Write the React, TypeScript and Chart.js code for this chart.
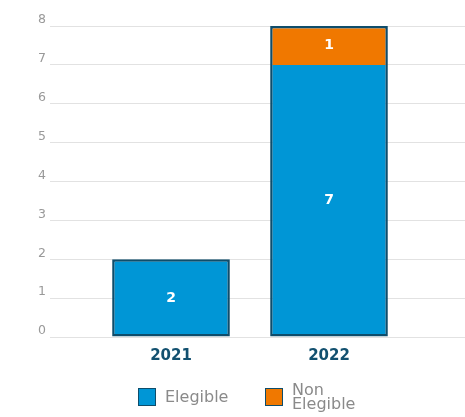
import React, { useEffect, useRef } from "react";
import { Chart, registerables } from "chart.js";

Chart.register(...registerables);

const categories = ["2021", "2022"];
const elegibleValues = [2, 7];
const nonElegibleValues = [null, 1];
const seriesNames = ["Elegible", "Non Elegible"];
const legendLines = [["Elegible"], ["Non", "Elegible"]];
const yTicks = [0, 1, 2, 3, 4, 5, 6, 7, 8];

const BLUE = "#0096D6";
const ORANGE = "#F07800";
const EDGE = "#0E4D6B";
const FONT = "'DejaVu Sans', 'Open Sans', sans-serif";
const seriesColors = [BLUE, ORANGE];

const valueLabels = {
  id: "valueLabels",
  afterDatasetsDraw(chart: any) {
    const ctx = chart.ctx;
    ctx.save();
    ctx.fillStyle = "#ffffff";
    ctx.font = `bold 14px ${FONT}`;
    ctx.textAlign = "center";
    ctx.textBaseline = "middle";
    chart.data.datasets.forEach((ds: any, di: number) => {
      const meta = chart.getDatasetMeta(di);
      meta.data.forEach((bar: any, i: number) => {
        const v = ds.data[i];
        if (v == null) return;
        const p = bar.getCenterPoint();
        ctx.fillText(String(v), p.x, p.y);
      });
    });
    ctx.restore();
  },
};

export default function App() {
  const ref = useRef<HTMLCanvasElement | null>(null);
  useEffect(() => {
    if (!ref.current) return;
    const chart = new Chart(ref.current, {
      type: "bar",
      data: {
        labels: categories,
        datasets: [
          {
            label: seriesNames[0],
            data: elegibleValues,
            backgroundColor: BLUE,
            borderColor: EDGE,
            borderWidth: 2.5,
            borderSkipped: (c: any) => (nonElegibleValues[c.dataIndex] ? "top" : false),
            barPercentage: 0.745,
            categoryPercentage: 1,
          },
          {
            label: seriesNames[1],
            data: nonElegibleValues,
            backgroundColor: ORANGE,
            borderColor: EDGE,
            borderWidth: 2.5,
            borderSkipped: "bottom",
            barPercentage: 0.745,
            categoryPercentage: 1,
          },
        ] as any,
      },
      options: {
        animation: false,
        responsive: false,
        maintainAspectRatio: false,
        layout: { padding: { top: 26, bottom: 50, left: 0, right: 0 } },
        scales: {
          x: {
            stacked: true,
            grid: { display: false },
            border: { display: false },
            ticks: {
              color: "#12506F",
              font: { family: FONT, size: 15, weight: "bold" },
              padding: 2,
            },
            afterFit: (s: any) => {
              s.height = 30;
            },
          },
          y: {
            stacked: true,
            min: 0,
            max: 8,
            afterBuildTicks: (s: any) => {
              s.ticks = yTicks.map((v) => ({ value: v }));
            },
            grid: { color: "#E2E2E2", lineWidth: 1, tickLength: 42 },
            border: { display: false },
            ticks: {
              color: "#999999",
              font: { family: FONT, size: 12.5 },
              padding: 4,
              labelOffset: -6,
            },
            afterFit: (s: any) => {
              s.width = 92;
            },
          },
          y2: {
            position: "right",
            min: 0,
            max: 8,
            afterBuildTicks: (s: any) => {
              s.ticks = yTicks.map((v) => ({ value: v }));
            },
            grid: { color: "#E2E2E2", lineWidth: 1, tickLength: 57, drawOnChartArea: false },
            border: { display: false },
            ticks: { display: false },
            afterFit: (s: any) => {
              s.width = 57;
            },
          },
        },
        plugins: {
          tooltip: { enabled: false },
          legend: { display: false },
        },
      } as any,
      plugins: [valueLabels],
    });
    return () => chart.destroy();
  }, []);
  const legendLeft = [138, 265];
  return (
    <div style={{ position: "absolute", left: 0, top: 0, width: 465, height: 417, background: "#fff" }}>
      <canvas ref={ref} width={465} height={417} style={{ width: 465, height: 417, display: "block" }} />
      {seriesNames.map((name, i) => (
        <div
          key={name}
          style={{
            position: "absolute",
            left: legendLeft[i],
            top: 381,
            height: 32,
            display: "flex",
            alignItems: "center",
            fontFamily: FONT,
            fontSize: 16,
            color: "#8A8A8A",
            lineHeight: "14px",
          }}
        >
          <div
            style={{
              width: 18,
              height: 18,
              boxSizing: "border-box",
              background: seriesColors[i],
              border: `1.5px solid ${EDGE}`,
              marginRight: 9,
              flex: "none",
            }}
          />
          <div style={{ whiteSpace: "nowrap" }}>
            {legendLines[i].map((ln) => (
              <div key={ln}>{ln}</div>
            ))}
          </div>
        </div>
      ))}
    </div>
  );
}
